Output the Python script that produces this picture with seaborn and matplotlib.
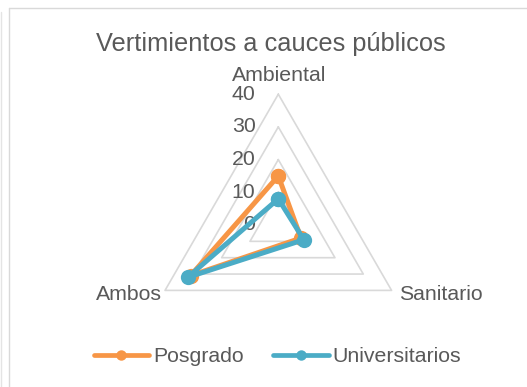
import numpy as np
import pandas as pd
import matplotlib
matplotlib.use("Agg")
import matplotlib.pyplot as plt
from matplotlib.lines import Line2D
import seaborn as sns

# Data
categorias = ["Ambiental", "Sanitario", "Ambos"]
posgrado = [15, 8, 31]
universitarios = [8, 9, 32]
series = ["Posgrado", "Universitarios"]
ticks = [0, 10, 20, 30, 40]

colores = {"Posgrado": "#F79646", "Universitarios": "#4BACC6"}
gris_texto = "#595959"
gris_linea = "#D9D9D9"

sns.set_theme(style="white")
plt.rcParams["font.family"] = ["Liberation Sans", "DejaVu Sans"]

W, H, DPI = 527, 387, 100
fig = plt.figure(figsize=(W / DPI, H / DPI), dpi=DPI)
fig.patch.set_facecolor("white")

# Axes spans the full figure; data units scaled so the radar sits in place
cx, cy, s = 278.3, 225.0, 3.27
ax = fig.add_axes([0, 0, 1, 1])
ax.set_xlim(-cx / s, (W - cx) / s)
ax.set_ylim(-(H - cy) / s, cy / s)
ax.axis("off")

angulos = np.deg2rad([90, -30, 210])
fs = 15.3

# Triangular grid rings
for r in ticks[1:]:
    gx = np.r_[r * np.cos(angulos), r * np.cos(angulos[0])]
    gy = np.r_[r * np.sin(angulos), r * np.sin(angulos[0])]
    ax.plot(gx, gy, color=gris_linea, lw=1.2, zorder=1)

# Long-format table, closing each polygon
filas = []
for nombre, vals in zip(series, [posgrado, universitarios]):
    idx = list(range(len(categorias))) + [0]
    for orden, i in enumerate(idx):
        filas.append({
            "serie": nombre,
            "orden": orden,
            "valor": vals[i],
            "x": vals[i] * np.cos(angulos[i]),
            "y": vals[i] * np.sin(angulos[i]),
        })
df = pd.DataFrame(filas)

sns.lineplot(data=df, x="x", y="y", hue="serie", palette=colores,
             sort=False, estimator=None,
             marker="o", markersize=11, markeredgewidth=0, lw=3.6,
             legend=False, ax=ax, zorder=3)

# Radial tick labels
for t in ticks:
    ax.text(-7.0, t, str(t), ha="right", va="center", fontsize=fs,
            color=gris_texto, zorder=2)

# Category labels
ax.text(0.2, 45.8, categorias[0], ha="center", va="center", fontsize=fs, color=gris_texto)
ax.text(49.8, -21.4, categorias[1], ha="center", va="center", fontsize=fs, color=gris_texto)
ax.text(-45.8, -21.4, categorias[2], ha="center", va="center", fontsize=fs, color=gris_texto)

# Title
fig.text(271 / W, 1 - 44 / H, "Vertimientos a cauces públicos", ha="center",
         va="center", fontsize=18.3, color=gris_texto)

# Legend
handles = [Line2D([], [], color=colores[n], lw=3.4, marker="o", markersize=7.5,
                  markeredgewidth=0) for n in series]
fig.legend(handles, series, loc="center", bbox_to_anchor=(277.5 / W, 1 - 357 / H),
           ncol=2, frameon=False, fontsize=fs, handlelength=2.6,
           handletextpad=0.2, columnspacing=1.4, labelcolor=gris_texto,
           borderpad=0, borderaxespad=0)

# Chart frame
def px_line(x0, y0, x1, y1, color, lw=1.0):
    fig.add_artist(Line2D([x0 / W, x1 / W], [1 - y0 / H, 1 - y1 / H],
                          transform=fig.transFigure, color=color, lw=lw))

px_line(9, 8, W, 8, gris_linea, 1.0)
px_line(9, 8, 9, H, gris_linea, 1.0)
px_line(1, 12, 1, H, "#E4E4E4", 1.0)

fig.savefig("out.png", dpi=DPI)
